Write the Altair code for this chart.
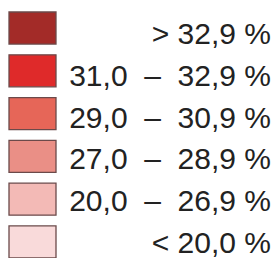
import altair as alt
import pandas as pd

NB = "\u00a0"
labels = [
    "> 32,9 %",
    f"31,0{NB}{NB}–{NB}{NB}32,9 %",
    f"29,0{NB}{NB}–{NB}{NB}30,9 %",
    f"27,0{NB}{NB}–{NB}{NB}28,9 %",
    f"20,0{NB}{NB}–{NB}{NB}26,9 %",
    "< 20,0 %",
]
colors = ["#A32B28", "#DF2A2A", "#E66658", "#EA8F86", "#F3BAB6", "#F9DADA"]
order = [0, 1, 2, 3, 4, 5]

df = pd.DataFrame({"label": labels, "color": colors, "order": order})

rect_scale = alt.Scale(domain=labels, range=[4, 250], paddingInner=0.25, paddingOuter=0)
text_scale = alt.Scale(type="point", domain=labels, range=[36, 245], padding=0)

base = alt.Chart(df)

rects = base.mark_rect(stroke="#6b4a4a", strokeWidth=1.3).encode(
    x=alt.value(1),
    x2=alt.value(48),
    y=alt.Y("label:N", scale=rect_scale, axis=None),
    color=alt.Color("color:N", scale=None, legend=None),
)

texts = base.mark_text(
    align="right", baseline="alphabetic",
    font="Liberation Sans", fontSize=30, color="#222222",
).encode(
    x=alt.value(263),
    y=alt.Y("label:N", scale=text_scale, axis=None),
    text="label:N",
)

chart = alt.layer(rects, texts).resolve_scale(y="independent").properties(
    width=263, height=250, padding=0, autosize="none", background="white"
).configure_view(stroke=None)

chart.save("out.html", embed_options={"renderer": "svg", "actions": False})
